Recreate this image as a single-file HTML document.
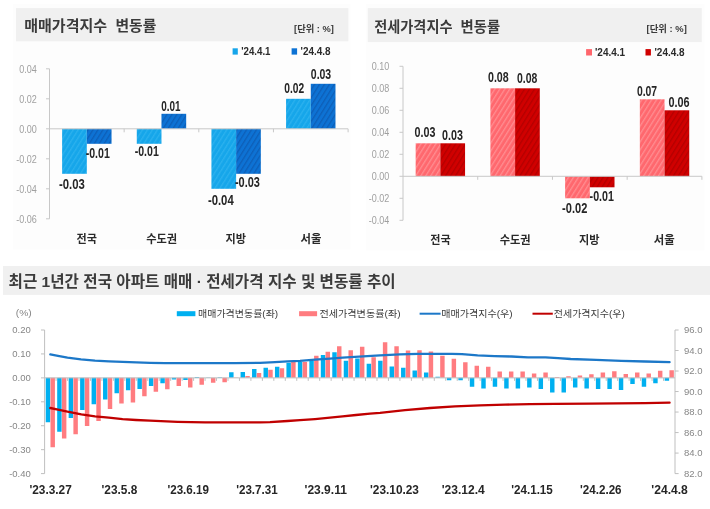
<!DOCTYPE html>
<html lang="ko">
<head>
<meta charset="utf-8">
<title>매매가격지수 변동률 / 전세가격지수 변동률</title>
<style>
html,body{margin:0;padding:0;background:#fff;}
body{width:710px;height:509px;overflow:hidden;font-family:"Liberation Sans",sans-serif;}
svg{display:block;font-family:"Liberation Sans","Noto Sans CJK KR",sans-serif;}
</style>
</head>
<body>
<svg width="710" height="509" viewBox="0 0 710 509" role="img">
<rect width="710" height="509" fill="#fff"/>
<g id="chart" filter="url(#soft)">
<defs>
<filter id="soft" x="0" y="0" width="710" height="509" filterUnits="userSpaceOnUse"><feGaussianBlur stdDeviation="0.55"/></filter>
<pattern id="hLB" width="4.2" height="4.2" patternUnits="userSpaceOnUse" patternTransform="rotate(-58)"><rect width="4.2" height="4.2" fill="#17a6ea"/><rect width="4.2" height="1.3" fill="#2bb1ee"/></pattern>
<pattern id="hDB" width="4.2" height="4.2" patternUnits="userSpaceOnUse" patternTransform="rotate(-58)"><rect width="4.2" height="4.2" fill="#0a72d4"/><rect width="4.2" height="1.3" fill="#0a5fb8"/></pattern>
<pattern id="hLR" width="4.2" height="4.2" patternUnits="userSpaceOnUse" patternTransform="rotate(-58)"><rect width="4.2" height="4.2" fill="#ff686e"/><rect width="4.2" height="1.3" fill="#ff8c90"/></pattern>
<pattern id="hDR" width="4.2" height="4.2" patternUnits="userSpaceOnUse" patternTransform="rotate(-58)"><rect width="4.2" height="4.2" fill="#d00000"/><rect width="4.2" height="1.3" fill="#b40000"/></pattern>
</defs>
<rect x="12.7" y="3.9" width="337.9" height="245.6" fill="#fdfdfd"/>
<rect x="366" y="3.9" width="338.5" height="246.6" fill="#fdfdfd"/>
<rect x="16" y="8.1" width="332.4" height="33.2" fill="#f0f0f0"/>
<rect x="367.8" y="8.1" width="334" height="34" fill="#f0f0f0"/>
<rect x="3" y="266" width="707" height="28.9" fill="#f0f0f0"/>
<text x="24.2" y="31" font-size="15" fill="#3a3a3a" font-weight="bold" font-family="'Liberation Sans','Noto Sans CJK KR',sans-serif" textLength="83" lengthAdjust="spacingAndGlyphs">매매가격지수</text>
<text x="115.4" y="31" font-size="15" fill="#3a3a3a" font-weight="bold" font-family="'Liberation Sans','Noto Sans CJK KR',sans-serif" textLength="40.9" lengthAdjust="spacingAndGlyphs">변동률</text>
<text x="374.2" y="31.5" font-size="15" fill="#3a3a3a" font-weight="bold" font-family="'Liberation Sans','Noto Sans CJK KR',sans-serif" textLength="78.3" lengthAdjust="spacingAndGlyphs">전세가격지수</text>
<text x="460.5" y="31.5" font-size="15" fill="#3a3a3a" font-weight="bold" font-family="'Liberation Sans','Noto Sans CJK KR',sans-serif" textLength="39.6" lengthAdjust="spacingAndGlyphs">변동률</text>
<text x="294.1" y="31.6" font-size="9.5" fill="#3a3a3a" font-weight="bold" font-family="'Liberation Sans','Noto Sans CJK KR',sans-serif" textLength="39.8" lengthAdjust="spacingAndGlyphs">[단위 : %]</text>
<text x="646.6" y="32" font-size="9.5" fill="#3a3a3a" font-weight="bold" font-family="'Liberation Sans','Noto Sans CJK KR',sans-serif" textLength="40.2" lengthAdjust="spacingAndGlyphs">[단위 : %]</text>
<text x="8.6" y="286.6" font-size="15.5" fill="#3a3a3a" font-weight="bold" font-family="'Liberation Sans','Noto Sans CJK KR',sans-serif" textLength="387" lengthAdjust="spacingAndGlyphs">최근 1년간 전국 아파트 매매 · 전세가격 지수 및 변동률 추이</text>
<rect x="62.12" y="128.8" width="24.7" height="45" fill="url(#hLB)"/>
<rect x="86.83" y="128.8" width="24.7" height="15" fill="url(#hDB)"/>
<rect x="136.78" y="128.8" width="24.7" height="15" fill="url(#hLB)"/>
<rect x="161.48" y="113.8" width="24.7" height="15" fill="url(#hDB)"/>
<rect x="211.43" y="128.8" width="24.7" height="60" fill="url(#hLB)"/>
<rect x="236.12" y="128.8" width="24.7" height="45" fill="url(#hDB)"/>
<rect x="286.08" y="98.8" width="24.7" height="30" fill="url(#hLB)"/>
<rect x="310.78" y="83.8" width="24.7" height="45" fill="url(#hDB)"/>
<path d="M49.5 68.8V218.8" stroke="#c8c8c8" stroke-width="1" fill="none"/>
<path d="M49.5 128.8H348.1" stroke="#c8c8c8" stroke-width="1" fill="none"/>
<text x="19.13" y="72.5" font-size="10.2" fill="#a0a0a0" text-anchor="start" font-weight="normal" textLength="17.57" lengthAdjust="spacingAndGlyphs">0.04</text>
<text x="19.13" y="102.5" font-size="10.2" fill="#a0a0a0" text-anchor="start" font-weight="normal" textLength="17.57" lengthAdjust="spacingAndGlyphs">0.02</text>
<text x="19.13" y="132.5" font-size="10.2" fill="#a0a0a0" text-anchor="start" font-weight="normal" textLength="17.57" lengthAdjust="spacingAndGlyphs">0.00</text>
<text x="16.13" y="162.5" font-size="10.2" fill="#a0a0a0" text-anchor="start" font-weight="normal" textLength="20.57" lengthAdjust="spacingAndGlyphs">-0.02</text>
<text x="16.13" y="192.5" font-size="10.2" fill="#a0a0a0" text-anchor="start" font-weight="normal" textLength="20.57" lengthAdjust="spacingAndGlyphs">-0.04</text>
<text x="16.13" y="222.5" font-size="10.2" fill="#a0a0a0" text-anchor="start" font-weight="normal" textLength="20.57" lengthAdjust="spacingAndGlyphs">-0.06</text>
<path d="M46 68.8h3.5M46 98.8h3.5M46 128.8h3.5M46 158.8h3.5M46 188.8h3.5M46 218.8h3.5M124.15 128.8v3.5M198.8 128.8v3.5M273.45 128.8v3.5M348.1 128.8v3.5" stroke="#c8c8c8" stroke-width="1" fill="none"/>
<text x="59" y="188.8" font-size="14" fill="#262626" text-anchor="start" font-weight="bold" textLength="25.8" lengthAdjust="spacingAndGlyphs">-0.03</text>
<text x="85.7" y="158.4" font-size="14" fill="#262626" text-anchor="start" font-weight="bold" textLength="24.1" lengthAdjust="spacingAndGlyphs">-0.01</text>
<text x="134.7" y="156.2" font-size="14" fill="#262626" text-anchor="start" font-weight="bold" textLength="24.1" lengthAdjust="spacingAndGlyphs">-0.01</text>
<text x="161.3" y="110.7" font-size="14" fill="#262626" text-anchor="start" font-weight="bold" textLength="19.3" lengthAdjust="spacingAndGlyphs">0.01</text>
<text x="207.9" y="204.6" font-size="14" fill="#262626" text-anchor="start" font-weight="bold" textLength="25.8" lengthAdjust="spacingAndGlyphs">-0.04</text>
<text x="234.9" y="187.2" font-size="14" fill="#262626" text-anchor="start" font-weight="bold" textLength="25" lengthAdjust="spacingAndGlyphs">-0.03</text>
<text x="284.3" y="92.7" font-size="14" fill="#262626" text-anchor="start" font-weight="bold" textLength="19.9" lengthAdjust="spacingAndGlyphs">0.02</text>
<text x="310.8" y="78.7" font-size="14" fill="#262626" text-anchor="start" font-weight="bold" textLength="20.4" lengthAdjust="spacingAndGlyphs">0.03</text>
<rect x="232.6" y="48.3" width="5.2" height="6.3" fill="#16a5ea"/>
<text x="241.3" y="54.9" font-size="10.5" fill="#2a2a2a" text-anchor="start" font-weight="bold" textLength="29.2" lengthAdjust="spacingAndGlyphs">'24.4.1</text>
<rect x="291.6" y="48.3" width="5.5" height="6.3" fill="#0a72d4"/>
<text x="300.6" y="54.9" font-size="10.5" fill="#2a2a2a" text-anchor="start" font-weight="bold" textLength="30" lengthAdjust="spacingAndGlyphs">'24.4.8</text>
<text x="86.8" y="242.7" font-size="11.5" fill="#2b2b2b" text-anchor="middle" font-weight="bold" font-family="'Liberation Sans','Noto Sans CJK KR',sans-serif" textLength="20.4" lengthAdjust="spacingAndGlyphs">전국</text>
<text x="161.7" y="242.7" font-size="11.5" fill="#2b2b2b" text-anchor="middle" font-weight="bold" font-family="'Liberation Sans','Noto Sans CJK KR',sans-serif" textLength="31" lengthAdjust="spacingAndGlyphs">수도권</text>
<text x="235.8" y="242.7" font-size="11.5" fill="#2b2b2b" text-anchor="middle" font-weight="bold" font-family="'Liberation Sans','Noto Sans CJK KR',sans-serif" textLength="20.5" lengthAdjust="spacingAndGlyphs">지방</text>
<text x="310.9" y="242.7" font-size="11.5" fill="#2b2b2b" text-anchor="middle" font-weight="bold" font-family="'Liberation Sans','Noto Sans CJK KR',sans-serif" textLength="20.9" lengthAdjust="spacingAndGlyphs">서울</text>
<rect x="415.66" y="143.3" width="24.7" height="33" fill="url(#hLR)"/>
<rect x="440.36" y="143.3" width="24.7" height="33" fill="url(#hDR)"/>
<rect x="490.39" y="88.3" width="24.7" height="88" fill="url(#hLR)"/>
<rect x="515.09" y="88.3" width="24.7" height="88" fill="url(#hDR)"/>
<rect x="565.11" y="176.3" width="24.7" height="22" fill="url(#hLR)"/>
<rect x="589.81" y="176.3" width="24.7" height="11" fill="url(#hDR)"/>
<rect x="639.84" y="99.3" width="24.7" height="77" fill="url(#hLR)"/>
<rect x="664.54" y="110.3" width="24.7" height="66" fill="url(#hDR)"/>
<path d="M403 66.3V220.3" stroke="#c8c8c8" stroke-width="1" fill="none"/>
<path d="M403 176.3H701.9" stroke="#c8c8c8" stroke-width="1" fill="none"/>
<text x="371.73" y="70" font-size="10.2" fill="#a0a0a0" text-anchor="start" font-weight="normal" textLength="17.57" lengthAdjust="spacingAndGlyphs">0.10</text>
<text x="371.73" y="92" font-size="10.2" fill="#a0a0a0" text-anchor="start" font-weight="normal" textLength="17.57" lengthAdjust="spacingAndGlyphs">0.08</text>
<text x="371.73" y="114" font-size="10.2" fill="#a0a0a0" text-anchor="start" font-weight="normal" textLength="17.57" lengthAdjust="spacingAndGlyphs">0.06</text>
<text x="371.73" y="136" font-size="10.2" fill="#a0a0a0" text-anchor="start" font-weight="normal" textLength="17.57" lengthAdjust="spacingAndGlyphs">0.04</text>
<text x="371.73" y="158" font-size="10.2" fill="#a0a0a0" text-anchor="start" font-weight="normal" textLength="17.57" lengthAdjust="spacingAndGlyphs">0.02</text>
<text x="371.73" y="180" font-size="10.2" fill="#a0a0a0" text-anchor="start" font-weight="normal" textLength="17.57" lengthAdjust="spacingAndGlyphs">0.00</text>
<text x="368.73" y="202" font-size="10.2" fill="#a0a0a0" text-anchor="start" font-weight="normal" textLength="20.57" lengthAdjust="spacingAndGlyphs">-0.02</text>
<text x="368.73" y="224" font-size="10.2" fill="#a0a0a0" text-anchor="start" font-weight="normal" textLength="20.57" lengthAdjust="spacingAndGlyphs">-0.04</text>
<path d="M399.5 66.3h3.5M399.5 88.3h3.5M399.5 110.3h3.5M399.5 132.3h3.5M399.5 154.3h3.5M399.5 176.3h3.5M399.5 198.3h3.5M399.5 220.3h3.5M477.73 176.3v3.5M552.45 176.3v3.5M627.17 176.3v3.5M701.9 176.3v3.5" stroke="#c8c8c8" stroke-width="1" fill="none"/>
<text x="414.5" y="137.1" font-size="14" fill="#262626" text-anchor="start" font-weight="bold" textLength="20.9" lengthAdjust="spacingAndGlyphs">0.03</text>
<text x="442.1" y="139.6" font-size="14" fill="#262626" text-anchor="start" font-weight="bold" textLength="20.9" lengthAdjust="spacingAndGlyphs">0.03</text>
<text x="488" y="82.1" font-size="14" fill="#262626" text-anchor="start" font-weight="bold" textLength="20.7" lengthAdjust="spacingAndGlyphs">0.08</text>
<text x="517" y="83" font-size="14" fill="#262626" text-anchor="start" font-weight="bold" textLength="20.3" lengthAdjust="spacingAndGlyphs">0.08</text>
<text x="562.1" y="212.5" font-size="14" fill="#262626" text-anchor="start" font-weight="bold" textLength="25.2" lengthAdjust="spacingAndGlyphs">-0.02</text>
<text x="589.6" y="201.3" font-size="14" fill="#262626" text-anchor="start" font-weight="bold" textLength="24.3" lengthAdjust="spacingAndGlyphs">-0.01</text>
<text x="636.9" y="96.2" font-size="14" fill="#262626" text-anchor="start" font-weight="bold" textLength="20.2" lengthAdjust="spacingAndGlyphs">0.07</text>
<text x="668.5" y="107.2" font-size="14" fill="#262626" text-anchor="start" font-weight="bold" textLength="21.1" lengthAdjust="spacingAndGlyphs">0.06</text>
<rect x="586.1" y="49.1" width="5.9" height="6.4" fill="#ff666c"/>
<text x="595" y="55.9" font-size="10.5" fill="#2a2a2a" text-anchor="start" font-weight="bold" textLength="30.1" lengthAdjust="spacingAndGlyphs">'24.4.1</text>
<rect x="645.5" y="49.1" width="5.4" height="6.4" fill="#d00000"/>
<text x="654.5" y="55.9" font-size="10.5" fill="#2a2a2a" text-anchor="start" font-weight="bold" textLength="30.1" lengthAdjust="spacingAndGlyphs">'24.4.8</text>
<text x="440.5" y="244" font-size="11.5" fill="#2b2b2b" text-anchor="middle" font-weight="bold" font-family="'Liberation Sans','Noto Sans CJK KR',sans-serif" textLength="20.4" lengthAdjust="spacingAndGlyphs">전국</text>
<text x="515.2" y="244" font-size="11.5" fill="#2b2b2b" text-anchor="middle" font-weight="bold" font-family="'Liberation Sans','Noto Sans CJK KR',sans-serif" textLength="31" lengthAdjust="spacingAndGlyphs">수도권</text>
<text x="589.2" y="244" font-size="11.5" fill="#2b2b2b" text-anchor="middle" font-weight="bold" font-family="'Liberation Sans','Noto Sans CJK KR',sans-serif" textLength="20.5" lengthAdjust="spacingAndGlyphs">지방</text>
<text x="664.3" y="244" font-size="11.5" fill="#2b2b2b" text-anchor="middle" font-weight="bold" font-family="'Liberation Sans','Noto Sans CJK KR',sans-serif" textLength="20.9" lengthAdjust="spacingAndGlyphs">서울</text>
<path d="M45.73 377.87h4.45v44.28h-4.45zM57.19 377.87h4.45v53.85h-4.45zM68.65 377.87h4.45v40.21h-4.45zM80.12 377.87h4.45v32.07h-4.45zM91.58 377.87h4.45v26.33h-4.45zM103.04 377.87h4.45v21.54h-4.45zM114.5 377.87h4.45v15.32h-4.45zM125.96 377.87h4.45v12.45h-4.45zM137.43 377.87h4.45v11.01h-4.45zM148.89 377.87h4.45v8.14h-4.45zM160.35 377.87h4.45v5.27h-4.45zM171.81 377.87h4.45v1.68h-4.45zM183.27 377.87h4.45v2.15h-4.45zM194.73 376.91h4.45v0.96h-4.45zM206.2 377.39h4.45v0.48h-4.45zM217.66 377.15h4.45v0.72h-4.45zM229.12 372.36h4.45v5.5h-4.45zM240.58 371.88h4.45v5.98h-4.45zM252.04 369.01h4.45v8.86h-4.45zM263.51 367.81h4.45v10.05h-4.45zM274.97 366.86h4.45v11.01h-4.45zM286.43 362.79h4.45v15.08h-4.45zM297.89 362.07h4.45v15.8h-4.45zM309.35 360.4h4.45v17.47h-4.45zM320.81 354.89h4.45v22.98h-4.45zM332.28 352.26h4.45v25.61h-4.45zM343.74 360.63h4.45v17.23h-4.45zM355.2 358.48h4.45v19.39h-4.45zM366.66 363.75h4.45v14.12h-4.45zM378.12 360.63h4.45v17.23h-4.45zM389.59 366.62h4.45v11.25h-4.45zM401.05 367.81h4.45v10.05h-4.45zM412.51 370.45h4.45v7.42h-4.45zM423.97 372.6h4.45v5.27h-4.45zM435.43 376.67h4.45v1.2h-4.45zM446.89 377.87h4.45v2.39h-4.45zM458.36 377.87h4.45v2.39h-4.45zM469.82 377.87h4.45v8.86h-4.45zM481.28 377.87h4.45v10.53h-4.45zM492.74 377.87h4.45v8.86h-4.45zM504.2 377.87h4.45v10.53h-4.45zM515.67 377.87h4.45v10.53h-4.45zM527.13 377.87h4.45v9.57h-4.45zM538.59 377.87h4.45v11.01h-4.45zM550.05 377.87h4.45v14.6h-4.45zM561.51 377.87h4.45v14.6h-4.45zM572.97 377.87h4.45v9.57h-4.45zM584.44 377.87h4.45v10.53h-4.45zM595.9 377.87h4.45v11.01h-4.45zM607.36 377.87h4.45v11.01h-4.45zM618.82 377.87h4.45v12.21h-4.45zM630.28 377.87h4.45v6.22h-4.45zM641.75 377.87h4.45v8.86h-4.45zM653.21 377.87h4.45v5.5h-4.45zM664.67 377.87h4.45v2.87h-4.45z" fill="#00b0f0"/>
<path d="M50.48 377.87h4.45v69.41h-4.45zM61.94 377.87h4.45v60.55h-4.45zM73.4 377.87h4.45v56.48h-4.45zM84.87 377.87h4.45v48.11h-4.45zM96.33 377.87h4.45v43.08h-4.45zM107.79 377.87h4.45v31.11h-4.45zM119.25 377.87h4.45v25.61h-4.45zM130.71 377.87h4.45v24.65h-4.45zM142.18 377.87h4.45v18.43h-4.45zM153.64 377.87h4.45v13.88h-4.45zM165.1 377.87h4.45v11.49h-4.45zM176.56 377.87h4.45v8.14h-4.45zM188.02 377.87h4.45v9.57h-4.45zM199.48 377.87h4.45v6.94h-4.45zM210.95 377.87h4.45v4.79h-4.45zM222.41 377.87h4.45v4.31h-4.45zM233.87 377.39h4.45v0.48h-4.45zM245.33 375.95h4.45v1.91h-4.45zM256.79 373.08h4.45v4.79h-4.45zM268.26 369.73h4.45v8.14h-4.45zM279.72 368.29h4.45v9.57h-4.45zM291.18 362.07h4.45v15.8h-4.45zM302.64 362.07h4.45v15.8h-4.45zM314.1 355.85h4.45v22.02h-4.45zM325.56 351.78h4.45v26.09h-4.45zM337.03 346.27h4.45v31.59h-4.45zM348.49 350.34h4.45v27.52h-4.45zM359.95 346.75h4.45v31.11h-4.45zM371.41 357.28h4.45v20.58h-4.45zM382.87 342.21h4.45v35.66h-4.45zM394.34 346.27h4.45v31.59h-4.45zM405.8 350.58h4.45v27.28h-4.45zM417.26 350.34h4.45v27.52h-4.45zM428.72 351.54h4.45v26.33h-4.45zM440.18 355.85h4.45v22.02h-4.45zM451.64 358.72h4.45v19.15h-4.45zM463.11 362.31h4.45v15.56h-4.45zM474.57 365.66h4.45v12.21h-4.45zM486.03 366.86h4.45v11.01h-4.45zM497.49 371.4h4.45v6.46h-4.45zM508.95 371.4h4.45v6.46h-4.45zM520.42 371.4h4.45v6.46h-4.45zM531.88 373.56h4.45v4.31h-4.45zM543.34 372.6h4.45v5.27h-4.45zM554.8 376.91h4.45v0.96h-4.45zM566.26 376.19h4.45v1.68h-4.45zM577.72 375.47h4.45v2.39h-4.45zM589.19 374.28h4.45v3.59h-4.45zM600.65 372.6h4.45v5.27h-4.45zM612.11 371.17h4.45v6.7h-4.45zM623.57 374.04h4.45v3.83h-4.45zM635.03 372.6h4.45v5.27h-4.45zM646.5 373.56h4.45v4.31h-4.45zM657.96 370.69h4.45v7.18h-4.45zM669.42 370.21h4.45v7.66h-4.45z" fill="#ff7c80"/>
<text x="30.8" y="333" font-size="9.5" fill="#868686" text-anchor="end" font-weight="normal">0.20</text>
<text x="30.8" y="356.93" font-size="9.5" fill="#868686" text-anchor="end" font-weight="normal">0.10</text>
<text x="30.8" y="380.87" font-size="9.5" fill="#868686" text-anchor="end" font-weight="normal">0.00</text>
<text x="30.8" y="404.8" font-size="9.5" fill="#868686" text-anchor="end" font-weight="normal">-0.10</text>
<text x="30.8" y="428.73" font-size="9.5" fill="#868686" text-anchor="end" font-weight="normal">-0.20</text>
<text x="30.8" y="452.67" font-size="9.5" fill="#868686" text-anchor="end" font-weight="normal">-0.30</text>
<text x="30.8" y="476.6" font-size="9.5" fill="#868686" text-anchor="end" font-weight="normal">-0.40</text>
<text x="684" y="333" font-size="9.5" fill="#868686" text-anchor="start" font-weight="normal">96.0</text>
<text x="684" y="353.51" font-size="9.5" fill="#868686" text-anchor="start" font-weight="normal">94.0</text>
<text x="684" y="374.03" font-size="9.5" fill="#868686" text-anchor="start" font-weight="normal">92.0</text>
<text x="684" y="394.54" font-size="9.5" fill="#868686" text-anchor="start" font-weight="normal">90.0</text>
<text x="684" y="415.06" font-size="9.5" fill="#868686" text-anchor="start" font-weight="normal">88.0</text>
<text x="684" y="435.57" font-size="9.5" fill="#868686" text-anchor="start" font-weight="normal">86.0</text>
<text x="684" y="456.09" font-size="9.5" fill="#868686" text-anchor="start" font-weight="normal">84.0</text>
<text x="684" y="476.6" font-size="9.5" fill="#868686" text-anchor="start" font-weight="normal">82.0</text>
<path d="M44.6 330V473.6M675 330V473.6M44.6 377.87H675M41 330h3.6M41 353.93h3.6M41 377.87h3.6M41 401.8h3.6M41 425.73h3.6M41 449.67h3.6M41 473.6h3.6M675 330h3.6M675 350.51h3.6M675 371.03h3.6M675 391.54h3.6M675 412.06h3.6M675 432.57h3.6M675 453.09h3.6M675 473.6h3.6M56.06 377.87v3M67.52 377.87v3M78.99 377.87v3M90.45 377.87v3M101.91 377.87v3M113.37 377.87v3M124.83 377.87v3M136.29 377.87v3M147.76 377.87v3M159.22 377.87v3M170.68 377.87v3M182.14 377.87v3M193.6 377.87v3M205.07 377.87v3M216.53 377.87v3M227.99 377.87v3M239.45 377.87v3M250.91 377.87v3M262.37 377.87v3M273.84 377.87v3M285.3 377.87v3M296.76 377.87v3M308.22 377.87v3M319.68 377.87v3M331.15 377.87v3M342.61 377.87v3M354.07 377.87v3M365.53 377.87v3M376.99 377.87v3M388.45 377.87v3M399.92 377.87v3M411.38 377.87v3M422.84 377.87v3M434.3 377.87v3M445.76 377.87v3M457.23 377.87v3M468.69 377.87v3M480.15 377.87v3M491.61 377.87v3M503.07 377.87v3M514.53 377.87v3M526 377.87v3M537.46 377.87v3M548.92 377.87v3M560.38 377.87v3M571.84 377.87v3M583.31 377.87v3M594.77 377.87v3M606.23 377.87v3M617.69 377.87v3M629.15 377.87v3M640.61 377.87v3M652.08 377.87v3M663.54 377.87v3" stroke="#bfbfbf" stroke-width="1" fill="none"/>
<text x="15.8" y="316" font-size="9.5" fill="#868686" text-anchor="start" font-weight="normal" textLength="16" lengthAdjust="spacingAndGlyphs">(%)</text>
<path d="M50.3 354.4 L58 355.9 L67.5 357.7 L81 359.4 L95 360.7 L109 361.4 L122.6 361.9 L150 362.9 L165 363.2 L200 363.2 L235 363.1 L260 362.8 L275 362.1 L287.5 361.4 L300 360.8 L315 359.6 L330 358.6 L342.6 357.7 L359 356.6 L380 355.3 L400 354.4 L418 353.9 L435 353.8 L452 353.9 L462 354.2 L477.6 355.4 L494.5 356.1 L511.4 356.5 L528 357.3 L545.4 357.4 L558 358.2 L570.7 359 L596 359.8 L621.4 360.8 L645 361.5 L669.6 362.2" stroke="#1f78c8" stroke-width="2.3" fill="none" stroke-linejoin="round" stroke-linecap="round"/>
<path d="M50.3 408 L58 409.6 L67.5 411.7 L81.3 414.4 L95 416.3 L108.8 417.7 L122.6 419.1 L136 420 L150 420.7 L177.5 421.8 L205 422.4 L232.6 422.4 L260 422.3 L270 422.1 L287.5 421 L300 420.2 L315 419.1 L330 417.7 L342.6 416.3 L356 415 L370 413.6 L380 412.8 L405 410.2 L430 408 L455 406.4 L480 405.3 L505 404.6 L530 404.2 L555 403.9 L590 403.6 L617.5 403.4 L645 403.1 L669.6 402.7" stroke="#c00000" stroke-width="2.3" fill="none" stroke-linejoin="round" stroke-linecap="round"/>
<rect x="176.8" y="311.2" width="18.6" height="5" fill="#00b0f0"/>
<rect x="299.1" y="311.2" width="18" height="5" fill="#ff7c80"/>
<path d="M419.6 313.7H440.6" stroke="#1f78c8" stroke-width="2"/>
<path d="M532.5 313.7H552.8" stroke="#c00000" stroke-width="2"/>
<text x="198" y="317" font-size="9.5" fill="#3c3c3c" font-family="'Liberation Sans','Noto Sans CJK KR',sans-serif" textLength="80.2" lengthAdjust="spacingAndGlyphs">매매가격변동률(좌)</text>
<text x="319.4" y="317" font-size="9.5" fill="#3c3c3c" font-family="'Liberation Sans','Noto Sans CJK KR',sans-serif" textLength="81.2" lengthAdjust="spacingAndGlyphs">전세가격변동률(좌)</text>
<text x="441.2" y="317" font-size="9.5" fill="#3c3c3c" font-family="'Liberation Sans','Noto Sans CJK KR',sans-serif" textLength="71.4" lengthAdjust="spacingAndGlyphs">매매가격지수(우)</text>
<text x="553.8" y="317" font-size="9.5" fill="#3c3c3c" font-family="'Liberation Sans','Noto Sans CJK KR',sans-serif" textLength="71" lengthAdjust="spacingAndGlyphs">전세가격지수(우)</text>
<text x="29.48" y="493.6" font-size="12" fill="#262626" text-anchor="start" font-weight="bold" textLength="42.3" lengthAdjust="spacingAndGlyphs">'23.3.27</text>
<text x="101.55" y="493.6" font-size="12" fill="#262626" text-anchor="start" font-weight="bold" textLength="35.7" lengthAdjust="spacingAndGlyphs">'23.5.8</text>
<text x="167.42" y="493.6" font-size="12" fill="#262626" text-anchor="start" font-weight="bold" textLength="41.5" lengthAdjust="spacingAndGlyphs">'23.6.19</text>
<text x="236.19" y="493.6" font-size="12" fill="#262626" text-anchor="start" font-weight="bold" textLength="41.5" lengthAdjust="spacingAndGlyphs">'23.7.31</text>
<text x="304.56" y="493.6" font-size="12" fill="#262626" text-anchor="start" font-weight="bold" textLength="42.3" lengthAdjust="spacingAndGlyphs">'23.9.11</text>
<text x="369.99" y="493.6" font-size="12" fill="#262626" text-anchor="start" font-weight="bold" textLength="49" lengthAdjust="spacingAndGlyphs">'23.10.23</text>
<text x="441.76" y="493.6" font-size="12" fill="#262626" text-anchor="start" font-weight="bold" textLength="43" lengthAdjust="spacingAndGlyphs">'23.12.4</text>
<text x="511.28" y="493.6" font-size="12" fill="#262626" text-anchor="start" font-weight="bold" textLength="41.5" lengthAdjust="spacingAndGlyphs">'24.1.15</text>
<text x="580.05" y="493.6" font-size="12" fill="#262626" text-anchor="start" font-weight="bold" textLength="41.5" lengthAdjust="spacingAndGlyphs">'24.2.26</text>
<text x="651.32" y="493.6" font-size="12" fill="#262626" text-anchor="start" font-weight="bold" textLength="36.5" lengthAdjust="spacingAndGlyphs">'24.4.8</text>
</g>
</svg>
</body>
</html>
